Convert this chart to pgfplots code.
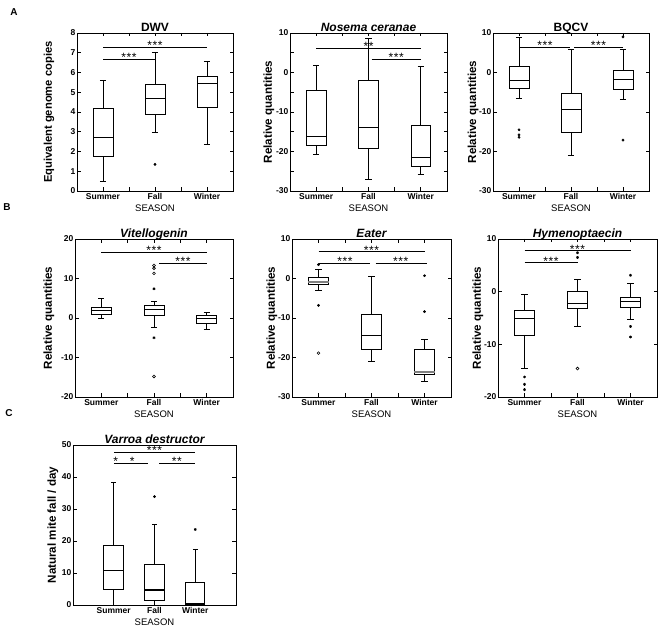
\documentclass[border=0pt]{standalone}
\usepackage{fontspec}
\setmainfont{Liberation Sans}
\usepackage{pgfplots}
\pgfplotsset{compat=1.18}
\usepgfplotslibrary{statistics}
\tikzset{sigstar/.style={font=\fontsize{12}{10}\selectfont, anchor=base, yshift=-2.5pt, inner sep=0pt}}
\newcommand{\st}[1]{\ifcase#1\or*\or*\kern0.6pt*\or*\kern0.6pt*\kern0.6pt*\fi}
\pgfplotsset{
  panel/.style={
    scale only axis, clip=false,
    xmin=0.5, xmax=3.5,
    xtick={1,2,3}, xticklabels={Summer,Fall,Winter},
    minor xtick={1.5,2.5},
    tick align=inside,
    major tick length=3.5pt, minor tick length=3.5pt,
    every tick/.style={black, line width=0.7pt},
    axis line style={line width=0.8pt},
    /pgf/number format/assume math mode=true,
    tick label style={font=\bfseries\fontsize{8.5}{9}\selectfont},
    xticklabel style={inner sep=2pt},
    yticklabel style={inner sep=1.5pt},
    every axis title shift=0pt,
    title style={font=\bfseries\fontsize{12}{13}\selectfont, at={(0.5,1)}, anchor=base, yshift=1.5pt, inner sep=0pt},
    ylabel style={font=\bfseries\fontsize{11.6}{12}\selectfont},
    xlabel style={font=\fontsize{9.5}{10}\selectfont, inner sep=0pt, yshift=-3.5pt},
    xlabel={SEASON},
    ylabel={Relative quantities},
  },
  ylx/.style={ylabel style={at={(axis description cs:#1,0.5)}, anchor=center}},
  bx/.style={black, line width=0.7pt, boxplot/draw direction=y, boxplot/box extend=0.38, boxplot/whisker extend=0.12,
     boxplot/every median/.style={line width=1.2pt}},
  sig/.style={black, line width=0.6pt},
  dot/.style={only marks, mark=*, mark size=1.2pt, black},
  circ/.style={only marks, mark=o, mark size=1.4pt, black, mark options={line width=0.6pt}},
  ast/.style={only marks, mark=asterisk, mark size=1.4pt, black, mark options={line width=0.7pt}},
}
\begin{document}
\begin{tikzpicture}
\useasboundingbox (0,0) rectangle (660pt,629pt);
\node[font=\bfseries\fontsize{10}{10}\selectfont] at (14pt,617pt) {A};
\node[font=\bfseries\fontsize{10}{10}\selectfont] at (7pt,422pt) {B};
\node[font=\bfseries\fontsize{10}{10}\selectfont] at (9pt,216pt) {C};

% ---------------- A1 DWV
\begin{axis}[panel, at={(77pt,438pt)}, anchor=south west, width=156pt, height=158pt,
  ymin=0, ymax=8, ytick={0,1,...,8}, title={DWV}, ylabel={Equivalent genome copies}, ylx=-0.18,
  ylabel style={font=\bfseries\fontsize{11.2}{12}\selectfont}]
\addplot[bx, boxplot prepared={draw position=1, lower whisker=0.47, lower quartile=1.76, median=2.72, upper quartile=4.16, upper whisker=5.6}] coordinates {};
\addplot[bx, boxplot prepared={draw position=2, lower whisker=2.96, lower quartile=3.89, median=4.70, upper quartile=5.41, upper whisker=7.04}] coordinates {};
\addplot[bx, boxplot prepared={draw position=3, lower whisker=2.37, lower quartile=4.25, median=5.43, upper quartile=5.80, upper whisker=6.56}] coordinates {};
\addplot[dot] coordinates {(2,1.35)};
\addplot[sig] coordinates {(1,6.68) (2,6.68)};
\node[sigstar] at (axis cs:1.5,6.68) {\st3};
\addplot[sig] coordinates {(1,7.27) (3,7.27)};
\node[sigstar] at (axis cs:2,7.27) {\st3};
\end{axis}

% ---------------- A2 Nosema
\begin{axis}[panel, at={(290pt,438pt)}, anchor=south west, width=157pt, height=158pt,
  ymin=-30, ymax=10, ytick={-30,-20,...,10}, minor ytick={-25,-15,...,5},
  title={\itshape Nosema ceranae}, ylx=-0.134]
\addplot[bx, boxplot prepared={draw position=1, lower whisker=-20.6, lower quartile=-18.5, median=-16.2, upper quartile=-4.5, upper whisker=1.8}] coordinates {};
\addplot[bx, boxplot prepared={draw position=2, lower whisker=-27.0, lower quartile=-19.1, median=-14.0, upper quartile=-2.0, upper whisker=8.6}] coordinates {};
\addplot[bx, boxplot prepared={draw position=3, lower whisker=-25.9, lower quartile=-23.7, median=-21.6, upper quartile=-13.3, upper whisker=1.5}] coordinates {};
\addplot[sig] coordinates {(1,6.2) (3,6.2)};
\node[sigstar] at (axis cs:2,6.2) {\st2};
\addplot[sig] coordinates {(2.06,3.4) (3,3.4)};
\node[sigstar] at (axis cs:2.53,3.4) {\st3};
\end{axis}

% ---------------- A3 BQCV
\begin{axis}[panel, at={(493pt,438pt)}, anchor=south west, width=156pt, height=158pt,
  ymin=-30, ymax=10, ytick={-30,-20,...,10}, title={BQCV}, ylx=-0.128]
\addplot[bx, boxplot prepared={draw position=1, lower whisker=-6.5, lower quartile=-3.95, median=-2.1, upper quartile=1.54, upper whisker=8.9}] coordinates {};
\addplot[bx, boxplot prepared={draw position=2, lower whisker=-21.0, lower quartile=-15.1, median=-9.3, upper quartile=-5.2, upper whisker=5.9}] coordinates {};
\addplot[bx, boxplot prepared={draw position=3, lower whisker=-6.7, lower quartile=-4.2, median=-1.84, upper quartile=0.44, upper whisker=5.8}] coordinates {};
\addplot[dot] coordinates {(1,-14.5) (1,-15.8) (1,-16.4) (3,9.0) (3,-17.1)};
\addplot[sig] coordinates {(1,6.4) (1.98,6.4)};
\node[sigstar] at (axis cs:1.5,6.4) {\st3};
\addplot[sig] coordinates {(2.06,6.4) (3,6.4)};
\node[sigstar] at (axis cs:2.53,6.4) {\st3};
\end{axis}

% ---------------- B1 Vitellogenin
\begin{axis}[panel, at={(75pt,232pt)}, anchor=south west, width=158pt, height=158pt,
  ymin=-20, ymax=20, ytick={-20,-10,...,20}, title={\itshape Vitellogenin}, ylx=-0.165]
\addplot[bx, boxplot prepared={draw position=1, lower whisker=0.0, lower quartile=1.0, median=1.86, upper quartile=2.8, upper whisker=4.9}] coordinates {};
\addplot[bx, boxplot prepared={draw position=2, lower whisker=-2.4, lower quartile=0.6, median=2.1, upper quartile=3.3, upper whisker=4.2}] coordinates {};
\addplot[bx, boxplot prepared={draw position=3, lower whisker=-2.8, lower quartile=-1.3, median=-0.2, upper quartile=0.7, upper whisker=1.5}] coordinates {};
\addplot[circ] coordinates {(2,13.3) (2,12.6) (2,11.3) (2,-14.8)};
\addplot[ast] coordinates {(2,7.4) (2,-5.0)};
\addplot[sig] coordinates {(1,16.7) (3,16.7)};
\node[sigstar] at (axis cs:2,16.7) {\st3};
\addplot[sig] coordinates {(2.1,13.8) (3,13.8)};
\node[sigstar] at (axis cs:2.55,13.8) {\st3};
\end{axis}

% ---------------- B2 Eater
\begin{axis}[panel, at={(292pt,232pt)}, anchor=south west, width=159pt, height=158pt,
  ymin=-30, ymax=10, ytick={-30,-20,...,10}, title={\itshape Eater}, ylx=-0.126]
\addplot[bx, boxplot/every median/.style={line width=1.4pt, gray}, boxplot prepared={draw position=1, lower whisker=-2.9, lower quartile=-1.5, median=-0.85, upper quartile=0.2, upper whisker=2.2}] coordinates {};
\addplot[bx, boxplot prepared={draw position=2, lower whisker=-20.9, lower quartile=-17.9, median=-14.5, upper quartile=-9.2, upper whisker=0.5}] coordinates {};
\addplot[bx, boxplot/every median/.style={line width=1.6pt, gray}, boxplot prepared={draw position=3, lower whisker=-26.0, lower quartile=-24.3, median=-23.7, upper quartile=-18.0, upper whisker=-15.4}] coordinates {};
\addplot[dot] coordinates {(1,3.5) (1,-6.8) (3,0.7) (3,-8.4)};
\addplot[circ] coordinates {(1,-18.9)};
\addplot[sig] coordinates {(1,6.8) (3,6.8)};
\node[sigstar] at (axis cs:2,6.8) {\st3};
\addplot[sig] coordinates {(1,3.9) (1.98,3.9)};
\node[sigstar] at (axis cs:1.5,3.9) {\st3};
\addplot[sig] coordinates {(2.08,3.9) (3.05,3.9)};
\node[sigstar] at (axis cs:2.55,3.9) {\st3};
\end{axis}

% ---------------- B3 Hymenoptaecin
\begin{axis}[panel, at={(498pt,232pt)}, anchor=south west, width=159pt, height=158pt,
  ymin=-20, ymax=10, ytick={-20,-10,0,10}, title={\itshape Hymenoptaecin}, ylx=-0.126]
\addplot[bx, boxplot prepared={draw position=1, lower whisker=-14.6, lower quartile=-8.2, median=-5.1, upper quartile=-3.5, upper whisker=-0.5}] coordinates {};
\addplot[bx, boxplot prepared={draw position=2, lower whisker=-6.6, lower quartile=-3.2, median=-2.2, upper quartile=0.0, upper whisker=2.3}] coordinates {};
\addplot[bx, boxplot prepared={draw position=3, lower whisker=-5.3, lower quartile=-3.0, median=-1.9, upper quartile=-1.0, upper whisker=1.5}] coordinates {};
\addplot[dot] coordinates {(1,-16.2)};
\addplot[ast] coordinates {(1,-17.6) (1,-18.6) (2,7.4) (2,6.5) (3,3.1) (3,-6.6) (3,-8.6)};
\addplot[circ] coordinates {(2,-14.6)};
\addplot[sig] coordinates {(1,7.8) (3,7.8)};
\node[sigstar] at (axis cs:2,7.8) {\st3};
\addplot[sig] coordinates {(1,5.5) (2,5.5)};
\node[sigstar] at (axis cs:1.5,5.5) {\st3};
\end{axis}

% ---------------- C Varroa
\begin{axis}[panel, at={(73pt,24pt)}, anchor=south west, width=163pt, height=160pt,
  xmin=0, xmax=4, minor xtick={}, xtick style={draw=none},
  ymin=0, ymax=50, ytick={0,10,...,50}, title={\itshape Varroa destructor},
  ylabel={Natural mite fall / day}, ylx=-0.123]
\addplot[bx, boxplot/box extend=0.49, boxplot prepared={draw position=1, lower whisker=0, lower quartile=5.0, median=10.7, upper quartile=18.6, upper whisker=38.4}] coordinates {};
\addplot[bx, boxplot/box extend=0.49, boxplot prepared={draw position=2, lower whisker=0, lower quartile=1.5, median=4.7, upper quartile=12.6, upper whisker=25.2}] coordinates {};
\addplot[bx, boxplot/box extend=0.47, boxplot prepared={draw position=3, lower whisker=0, lower quartile=0.2, median=0.5, upper quartile=7.1, upper whisker=17.4}] coordinates {};
\addplot[dot] coordinates {(2,33.9)};
\addplot[ast] coordinates {(3,23.6)};
\addplot[sig] coordinates {(1,47.7) (3,47.7)};
\node[sigstar] at (axis cs:2,47.7) {\st3};
\addplot[sig] coordinates {(1,44.3) (1.85,44.3)};
\node[sigstar] at (axis cs:1.05,44.3) {\st1};
\node[sigstar] at (axis cs:1.45,44.3) {\st1};
\addplot[sig] coordinates {(2.12,44.3) (3,44.3)};
\node[sigstar] at (axis cs:2.55,44.3) {\st2};
\end{axis}
\end{tikzpicture}
\end{document}
